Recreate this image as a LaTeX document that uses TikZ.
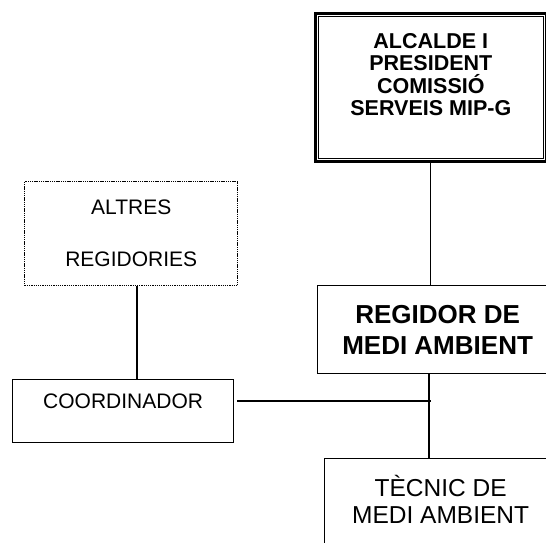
\documentclass[tikz,border=0pt]{standalone}
\usepackage{fontspec}
\setmainfont{Liberation Sans}
\usetikzlibrary{positioning}

\begin{document}
\begin{tikzpicture}[x=1pt, y=-1pt, line width=1.2pt,
    box/.style={draw, rectangle, inner sep=0pt, align=center, anchor=north west}]
    \useasboundingbox (0,0) rectangle (546,543);
    \clip (0,0) rectangle (546,543);

    \node[box, line width=2.6pt, minimum width=231pt, minimum height=148pt,
          font=\fontsize{21.5}{22.5}\selectfont\bfseries] (alc) at (314,12)
          {ALCALDE I\\PRESIDENT\\COMISSIÓ\\SERVEIS MIP-G\\[3pt]\mbox{}};
    \draw[line width=1.1pt] ([shift={(4.5,4.5)}]alc.north west) rectangle ([shift={(-4.5,-4.5)}]alc.south east);

    \node[box, dash pattern=on 1.3pt off 0.9pt, line width=1.4pt, minimum width=213pt, minimum height=104pt,
          font=\fontsize{21}{24}\selectfont] (alt) at (24,181) {ALTRES\\[28pt]REGIDORIES};
    \node[box, minimum width=221pt, minimum height=63pt,
          font=\fontsize{21}{24}\selectfont] (coo) at (12,379) {COORDINADOR\\[-4pt]\mbox{}};
    \node[box, minimum width=240pt, minimum height=88pt,
          font=\fontsize{26}{31}\selectfont\bfseries] (reg) at (317,285) {REGIDOR DE\\MEDI AMBIENT};
    \node[box, minimum width=232pt, minimum height=105pt,
          font=\fontsize{24.5}{27}\selectfont] (tec) at (324,458) {TÈCNIC DE\\MEDI AMBIENT\\[-3pt]\mbox{}};

    \coordinate (J) at (429,401);
    \coordinate (D) at (137,0);

    \draw (alc.south) -- (alc.south |- reg.north);
    \draw (reg.south -| J) -- (tec.north -| J);
    \draw ([xshift=3pt]coo.east |- J) -- ([xshift=2pt]J);
    \draw (alt.south -| D) -- (coo.north -| D);
\end{tikzpicture}
\end{document}
